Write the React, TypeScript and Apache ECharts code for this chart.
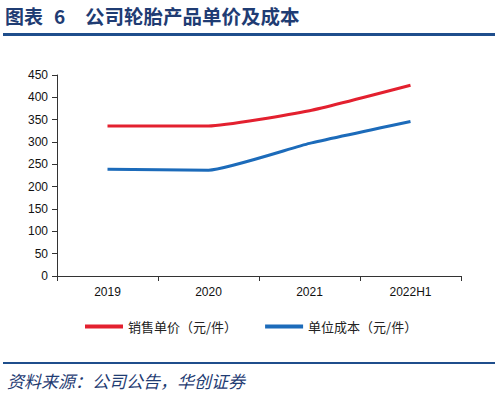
import React, { useEffect, useRef } from "react";
import * as echarts from "echarts";

const categories = ["2019", "2020", "2021", "2022H1"];
const priceValues = [336, 336, 370, 427];
const costValues = [239, 237, 297, 346];
const seriesNames = ["销售单价（元/件）", "单位成本（元/件）"];
const titleLabel = "图表";
const titleNumber = "6";
const titleText = "公司轮胎产品单价及成本";
const sourceText = "资料来源：公司公告，华创证券";

export default function App() {
  const ref = useRef<HTMLDivElement>(null);
  useEffect(() => {
    if (!ref.current) return;
    const chart = echarts.init(ref.current, null, { renderer: "svg" });
    const navy = "#1F3C73";
    chart.setOption({
      animation: false,
      backgroundColor: "#ffffff",
      textStyle: { fontFamily: "Liberation Sans, Arial, sans-serif" },
      grid: { left: 57, right: 39, top: 75, bottom: 122, containLabel: false },
      legend: {
        top: 315,
        left: 80,
        itemWidth: 38,
        itemHeight: 4,
        itemGap: 28,
        icon: "rect",
        textStyle: {
          fontFamily: "Noto Sans CJK SC",
          fontSize: 13,
          color: "#222",
        },
        data: seriesNames,
      },
      xAxis: {
        type: "category",
        data: categories,
        boundaryGap: true,
        axisLine: { lineStyle: { color: "#333", width: 1 } },
        axisTick: { show: true, length: 5, lineStyle: { color: "#333" } },
        axisLabel: { color: "#111", fontSize: 12, margin: 10 },
      },
      yAxis: {
        type: "value",
        min: 0,
        max: 450,
        interval: 50,
        splitLine: { show: false },
        axisLine: { show: true, lineStyle: { color: "#333", width: 1 } },
        axisTick: { show: true, length: 5, lineStyle: { color: "#333" } },
        axisLabel: { color: "#111", fontSize: 12, margin: 9 },
      },
      series: [
        {
          name: seriesNames[0],
          type: "line",
          data: priceValues,
          smooth: 0.15,
          symbol: "none",
          lineStyle: { color: "#E3202F", width: 3 },
          itemStyle: { color: "#E3202F" },
        },
        {
          name: seriesNames[1],
          type: "line",
          data: costValues,
          smooth: 0.15,
          symbol: "none",
          lineStyle: { color: "#1C6BBA", width: 3 },
          itemStyle: { color: "#1C6BBA" },
        },
      ],
      graphic: [
        {
          type: "text",
          left: 5,
          top: 6,
          style: { text: titleLabel, fill: navy, font: "bold 19px 'Noto Sans CJK SC'" },
        },
        {
          type: "text",
          left: 54,
          top: 6,
          style: { text: titleNumber, fill: navy, font: "bold 19px 'Noto Sans CJK SC'" },
        },
        {
          type: "text",
          left: 85,
          top: 6,
          style: { text: titleText, fill: navy, font: "bold 19.5px 'Noto Sans CJK SC'" },
        },
        {
          type: "line",
          shape: { x1: 3, y1: 34.5, x2: 495, y2: 34.5 },
          style: { stroke: "#1F4E8C", lineWidth: 3 },
        },
        {
          type: "line",
          shape: { x1: 3, y1: 363, x2: 495, y2: 363 },
          style: { stroke: "#1F4E8C", lineWidth: 2 },
        },
        {
          type: "text",
          left: 7,
          top: 372,
          style: { text: sourceText, fill: navy, font: "italic 17px 'Noto Sans CJK SC'" },
        },
      ],
    });
    return () => chart.dispose();
  }, []);
  return <div ref={ref} style={{ width: 500, height: 398, position: "absolute", left: 0, top: 0 }} />;
}
